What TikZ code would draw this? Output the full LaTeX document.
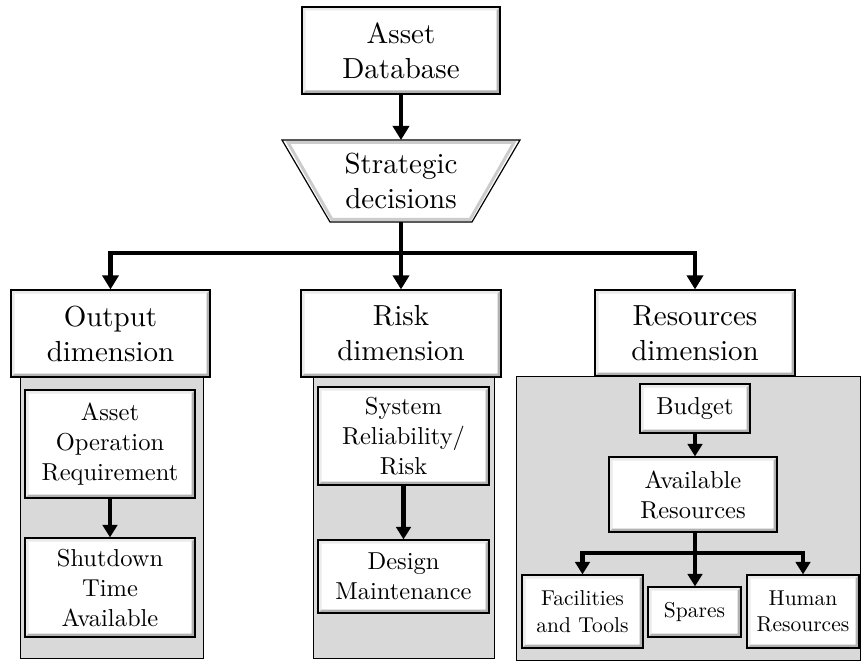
\documentclass[tikz,border=0pt]{standalone}
\usepackage{fontspec}
\usetikzlibrary{arrows.meta,calc}
% the 10pt design of Latin Modern, scaled up, for sturdier strokes
\newfontfamily\lmten{lmroman10-regular.otf}
\newcommand{\bigtxt}{\lmten\fontsize{29}{35}\selectfont}
\newcommand{\midtxt}{\lmten\fontsize{24.5}{30}\selectfont}
\newcommand{\smalltxt}{\lmten\fontsize{21.5}{26.5}\selectfont}
\newcommand{\bv}{3.5pt}
\tikzset{
  bevelbox/.style={draw=black, line width=1.2pt, fill=white, align=center, inner sep=0pt,
    path picture={
      \fill[black!8] (path picture bounding box.south west) -- (path picture bounding box.north west)
        -- (path picture bounding box.north east) -- ([xshift=-\bv,yshift=-\bv]path picture bounding box.north east)
        -- ([xshift=\bv,yshift=-\bv]path picture bounding box.north west) -- ([xshift=\bv,yshift=\bv]path picture bounding box.south west) -- cycle;
      \fill[black!30] (path picture bounding box.south west) -- (path picture bounding box.south east)
        -- (path picture bounding box.north east) -- ([xshift=-\bv,yshift=-\bv]path picture bounding box.north east)
        -- ([xshift=-\bv,yshift=\bv]path picture bounding box.south east) -- ([xshift=\bv,yshift=\bv]path picture bounding box.south west) -- cycle;
    }},
  big/.style={bevelbox, font=\bigtxt},
  mid/.style={bevelbox, font=\midtxt},
  small/.style={bevelbox, font=\smalltxt},
  panel/.style={draw=black, line width=0.8pt, fill=black!15},
  link/.style={line width=4.6pt, line join=miter},
  arr/.style={link, -{Triangle[width=16pt,length=14pt]}},
  sarr/.style={link, -{Triangle[width=14.5pt,length=12.5pt]}}
}
\begin{document}
\begin{tikzpicture}[x=1pt,y=-1pt]
\useasboundingbox (0,0) rectangle (862,663);

% grey panels behind each dimension
\path[panel] (20,377) rectangle (203,658);
\path[panel] (313,377) rectangle (494,658);
\path[panel] (516,376) rectangle (860,660);

% top of the hierarchy
\node[big, minimum width=198pt, minimum height=87pt] (asset) at (401,50.5) {Asset\\ Database};

% strategic decisions (inverted trapezoid)
\coordinate (stl) at (282,140);
\coordinate (str) at (520,140);
\coordinate (sbr) at (472,222);
\coordinate (sbl) at (330,222);
\coordinate (stop) at (401,140);
\coordinate (sbot) at (401,222);
\fill[white] (stl) -- (str) -- (sbr) -- (sbl) -- cycle;
\draw[black!20, line width=3pt, line join=miter] ($(stl)+(6,2.5)$) -- ($(str)+(-6,2.5)$) -- ($(sbr)+(-2,-2.5)$) -- ($(sbl)+(2,-2.5)$) -- cycle;
\draw[line width=1.2pt] (stl) -- (str) -- (sbr) -- (sbl) -- cycle;
\node[align=center, inner sep=0pt, font=\bigtxt] (strat) at (401,181) {Strategic\\ decisions};

% the three dimensions
\node[big, minimum width=199pt, minimum height=87pt] (out) at (110.5,333.5) {Output\\ dimension};
\node[big, minimum width=200pt, minimum height=87pt] (risk) at (401,333.5) {Risk\\ dimension};
\node[big, minimum width=200pt, minimum height=86pt] (res) at (695,333) {Resources\\ dimension};

% output dimension contents
\node[mid, minimum width=170pt, minimum height=108pt] (aor) at (110,444) {Asset\\ Operation\\ Requirement};
\node[mid, minimum width=170pt, minimum height=99pt] (shut) at (110,587.5) {Shutdown\\ Time\\ Available};

% risk dimension contents
\node[mid, minimum width=171pt, minimum height=98pt] (sysrel) at (403.5,436) {System\\ Reliability/\\ Risk};
\node[mid, minimum width=171pt, minimum height=73pt] (design) at (403.5,576.5) {Design\\ Maintenance};

% resources dimension contents
\node[mid, minimum width=110pt, minimum height=49pt] (budget) at (695,408.5) {Budget};
\node[mid, minimum width=168pt, minimum height=75pt] (avail) at (693,494.5) {Available\\ Resources};
\node[small, minimum width=121pt, minimum height=73pt] (fac) at (582.5,611.5) {Facilities\\ and Tools};
\node[small, minimum width=93pt, minimum height=50pt] (spares) at (694.5,612) {Spares};
\node[small, minimum width=112pt, minimum height=73pt] (human) at (803,611.5) {Human\\ Resources};

% connectors
\coordinate (split) at (401,253);
\coordinate (rsplit) at (695,553);
\draw[arr] (asset.south) -- (stop);
\draw[link] (sbot) -- (split);
\draw[arr] (split) -| (out.north);
\draw[arr] (split) -- (risk.north);
\draw[arr] (split) -| (res.north);
\draw[sarr] (aor.south) -- (shut.north);
\draw[sarr] (sysrel.south) -- (design.north);
\draw[sarr] (budget.south) -- (avail.north -| budget.south);
\draw[link] (avail.south -| rsplit) -- (rsplit);
\draw[sarr] (rsplit) -| (fac.north);
\draw[sarr] (rsplit) -- (spares.north -| rsplit);
\draw[sarr] (rsplit) -| (human.north);
\end{tikzpicture}
\end{document}
